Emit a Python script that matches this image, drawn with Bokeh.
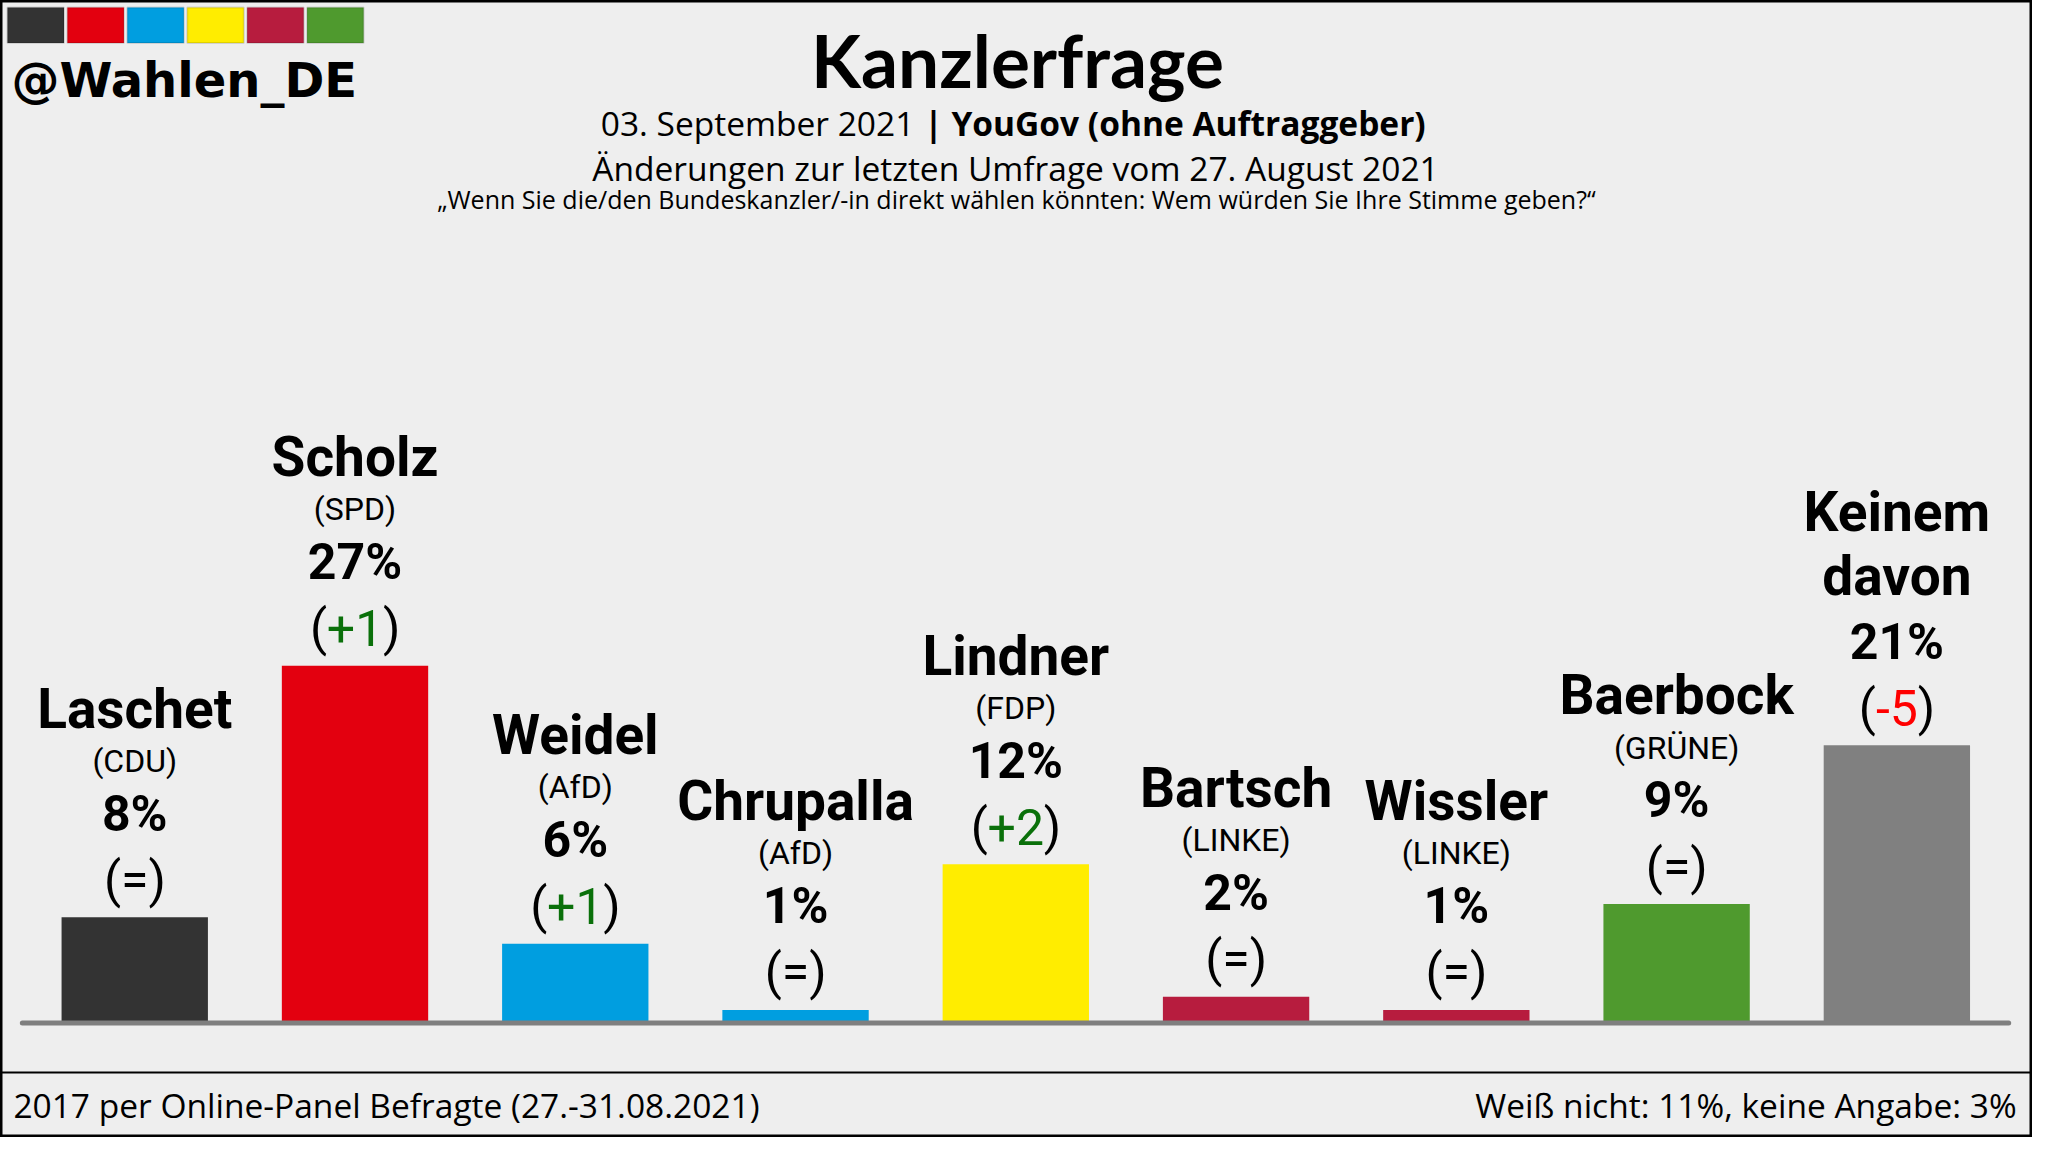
from bokeh.plotting import figure
from bokeh.models import Range1d, ColumnDataSource
from bokeh.core.properties import value
from bokeh.embed import file_html
from bokeh.resources import INLINE

# ---------------- data ----------------
names = ["Laschet", "Scholz", "Weidel", "Chrupalla", "Lindner",
         "Bartsch", "Wissler", "Baerbock", "Keinem\ndavon"]
parties = ["CDU", "SPD", "AfD", "AfD", "FDP", "LINKE", "LINKE", "GRÜNE", ""]
shares = [8, 27, 6, 1, 12, 2, 1, 9, 21]
changes = ["=", "+1", "+1", "=", "+2", "=", "=", "=", "-5"]
bar_colors = ["#333333", "#e3000f", "#009ee0", "#009ee0", "#ffed00",
              "#b71c3e", "#b71c3e", "#4f9a2e", "#808080"]
logo_colors = ["#333333", "#e3000f", "#009ee0", "#ffed00", "#b71c3e", "#4f9a2e"]

title = "Kanzlerfrage"
handle = "@Wahlen_DE"
sub_date = "03. September 2021"
sub_inst = "| YouGov (ohne Auftraggeber)"
sub_change = "Änderungen zur letzten Umfrage vom 27. August 2021"
question = "„Wenn Sie die/den Bundeskanzler/-in direkt wählen könnten: Wem würden Sie Ihre Stimme geben?“"
foot_left = "2017 per Online-Panel Befragte (27.-31.08.2021)"
foot_right = "Weiß nicht: 11%, keine Angabe: 3%"

# ---------------- layout helpers (reference pixel -> data units) ----------------
REF_W, REF_H = 2048, 1153
X0, STEP = 135.3, 222.0      # first bar centre, bar spacing (px)
BASE, PPU = 1037.0, 13.42    # baseline y (px), px per percent
# empirical baseline correction (fraction of font size) per font
CORR = {"Roboto": 0.30, "Lato": 0.29, "Open Sans": 0.25, "DejaVu Sans": 0.24}


def X(rx):
    return (rx - X0) / STEP


def Y(ry):
    return (BASE - ry) / PPU


BG = "#eeeeee"
p = figure(width=2032, height=1137, output_backend="svg", toolbar_location=None,
           x_range=Range1d(X(0), X(REF_W)), y_range=Range1d(Y(REF_H), Y(0)),
           x_axis_location=None, y_axis_location=None, min_border=0,
           background_fill_color=BG, border_fill_color=BG)
p.xgrid.visible = False
p.ygrid.visible = False
p.outline_line_color = "black"
p.outline_line_width = 4

idx = list(range(len(names)))

# bars
p.vbar(x=idx, top=shares, bottom=0, width=147.5 / STEP, fill_color=bar_colors,
       line_color=None)
# baseline
p.line(x=[X(22), X(2024)], y=[0, 0], line_color="#7f7f7f", line_width=5,
       line_cap="round")

# ---------------- bar labels ----------------
ROBOTO = value("Roboto")
RC = CORR["Roboto"]
EM = {"+": 0.554, "-": 0.276, "=": 0.549}
name_src = {"x": [], "y": [], "t": []}
party_src = {"x": [], "y": [], "t": []}
pct_src = {"x": [], "y": [], "t": []}
ch_src = {"x": [], "y": [], "t": [], "c": [], "lo": [], "ro": []}
for i, (n, pa, s, ch) in enumerate(zip(names, parties, shares, changes)):
    top = s  # percent
    pct_src["x"].append(i); pct_src["y"].append(top + (90 + RC * 50) / PPU); pct_src["t"].append(f"{s}%")
    w = sum(EM.get(c, 0.5615) for c in ch) * 50
    col = "#0a700a" if ch.startswith("+") else ("#ff0000" if ch.startswith("-") else "black")
    ch_src["x"].append(i); ch_src["y"].append(top + (23 + RC * 50) / PPU); ch_src["t"].append(ch)
    ch_src["c"].append(col); ch_src["lo"].append(-w / 2); ch_src["ro"].append(w / 2)
    lines = n.split("\n")
    if pa:
        party_src["x"].append(i); party_src["y"].append(top + (149 + RC * 32) / PPU); party_src["t"].append(f"({pa})")
        base = 195
    else:
        base = 155
    for k, ln in enumerate(reversed(lines)):
        name_src["x"].append(i); name_src["y"].append(top + (base + 65 * k + RC * 55) / PPU); name_src["t"].append(ln)

p.text(x="x", y="y", text="t", source=ColumnDataSource(name_src), text_font=ROBOTO,
       text_font_style="bold", text_font_size="55px", text_align="center",
       text_baseline="alphabetic", text_color="black")
p.text(x="x", y="y", text="t", source=ColumnDataSource(party_src), text_font=ROBOTO,
       text_font_size="32px", text_align="center", text_baseline="alphabetic",
       text_color="black")
p.text(x="x", y="y", text="t", source=ColumnDataSource(pct_src), text_font=ROBOTO,
       text_font_style="bold", text_font_size="50px", text_align="center",
       text_baseline="alphabetic", text_color="black")
chs = ColumnDataSource(ch_src)
p.text(x="x", y="y", text="t", source=chs, text_font=ROBOTO, text_font_size="50px",
       text_align="center", text_baseline="alphabetic", text_color="c")
p.text(x="x", y="y", text=value("("), x_offset="lo", source=chs, text_font=ROBOTO,
       text_font_size="50px", text_align="right", text_baseline="alphabetic",
       text_color="black")
p.text(x="x", y="y", text=value(")"), x_offset="ro", source=chs, text_font=ROBOTO,
       text_font_size="50px", text_align="left", text_baseline="alphabetic",
       text_color="black")


def label(rx, ry, s, font, size, align="left", style="normal"):
    p.text(x=[X(rx)], y=[Y(ry - CORR[font] * size)], text=[s], text_font=value(font),
           text_font_style=style, text_font_size=f"{size}px", text_align=align,
           text_baseline="alphabetic", text_color="black")


# ---------------- header ----------------
lefts = [X(7 + 60.4 * k) for k in range(len(logo_colors))]
rights = [X(7 + 60.4 * k + 57) for k in range(len(logo_colors))]
p.quad(left=lefts, right=rights, top=[Y(7)] * 6, bottom=[Y(43)] * 6,
       fill_color=logo_colors, line_color="black", line_alpha=0.12, line_width=2)

label(11, 92, handle, "DejaVu Sans", 48, "left", "bold")
label(1025, 82, title, "Lato", 73, "center", "bold")
label(921, 133, sub_date, "Open Sans", 33.5, "right")
label(931, 133, sub_inst, "Open Sans", 33.5, "left", "bold")
label(1023, 178, sub_change, "Open Sans", 33.5, "center")
label(1024, 208, question, "Open Sans", 25, "center")

# ---------------- footer ----------------
p.line(x=[X(0), X(REF_W)], y=[Y(1087), Y(1087)], line_color="black", line_width=2)
label(13, 1128, foot_left, "Open Sans", 33.5, "left")
label(2032, 1128, foot_right, "Open Sans", 33.5, "right")

open("out.html", "w").write(file_html(p, INLINE))
